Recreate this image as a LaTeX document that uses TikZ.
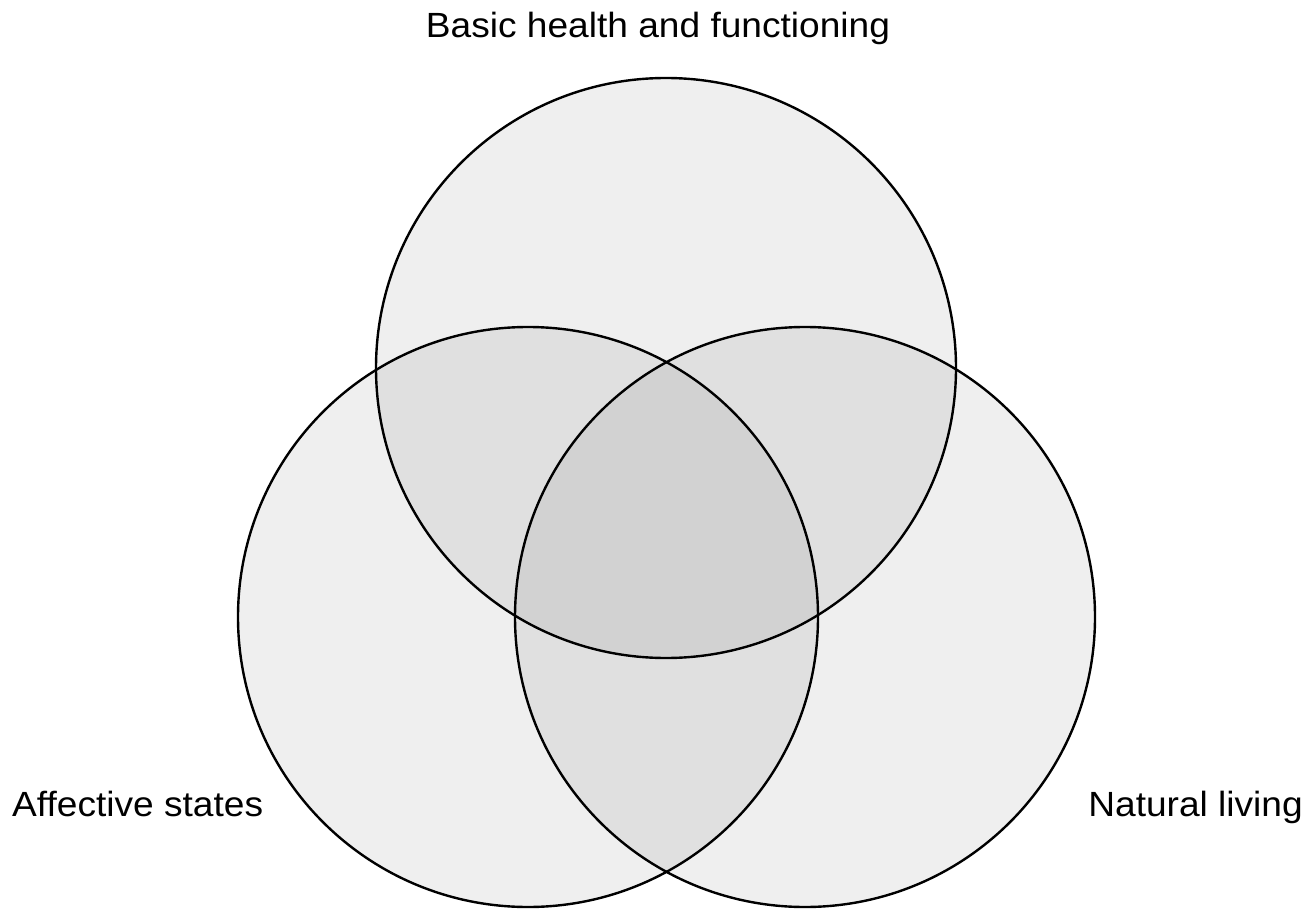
\documentclass[tikz,border=0pt]{standalone}
\usepackage{fontspec}
\setmainfont{Liberation Sans}
\newcommand{\widetext}[1]{\scalebox{1.06}[1]{#1}}
\begin{document}
\begin{tikzpicture}[x=1pt,y=-1pt,
  venn/.style={circle, draw=black, line width=2.4pt, fill=black, fill opacity=0.063, draw opacity=1, minimum size=580pt, inner sep=0pt, outer sep=0pt},
  lab/.style={font=\fontsize{35}{40}\selectfont, inner sep=0pt, text=black}]
\useasboundingbox (0,0) rectangle (1314,909);
\node[venn] (health) at (666,368) {};
\node[venn] (affect) at (528,617) {};
\node[venn] (natural) at (805,617) {};
\node[lab, anchor=base] (thealth) at (658,38) {\widetext{Basic health and functioning}};
\node[lab, anchor=base west] (taffect) at (12,816) {\widetext{Affective states}};
\node[lab, anchor=base east] (tnatural) at (1303,816) {\widetext{Natural living}};
\end{tikzpicture}
\end{document}
